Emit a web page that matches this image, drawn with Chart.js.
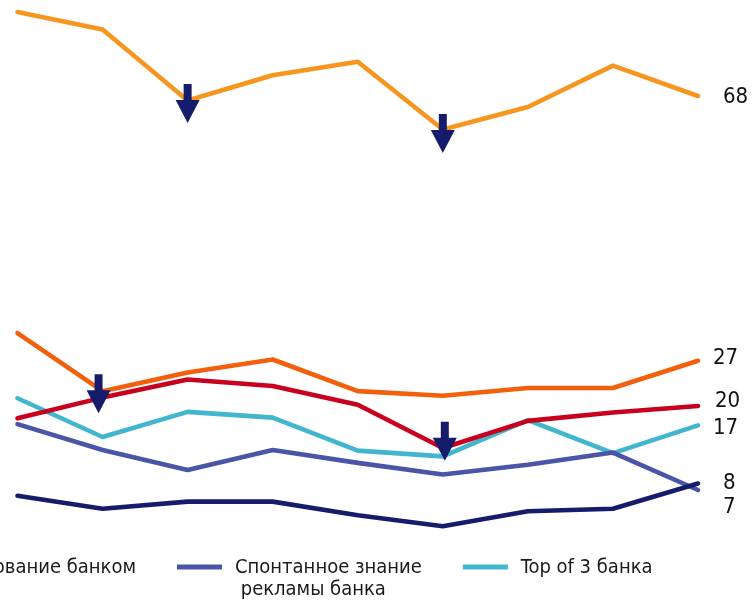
<!DOCTYPE html>
<html>
<head>
<meta charset="utf-8">
<script src="https://cdn.jsdelivr.net/npm/chart.js@4.4.1/dist/chart.umd.min.js"></script>
<style>
  html, body { margin: 0; padding: 0; background: #ffffff; }
  #wrap { position: relative; width: 753px; height: 601px; overflow: hidden; }
  canvas { display: block; }
</style>
</head>
<body>
<div id="wrap"><canvas id="chart" width="753" height="601"></canvas></div>
<script>
// Survey waves (axis labels are not shown)
const waves = ['1', '2', '3', '4', '5', '6', '7', '8', '9'];

// Series values, %
const orangeSeries    = [81, 78.3, 67.3, 71.2, 73.3, 62.8, 66.3, 72.7, 68];
const orangeRedSeries = [31.3, 22.3, 25.2, 27.2, 22.3, 21.6, 22.8, 22.8, 27];
const redSeries       = [18.1, 21.3, 24.1, 23.1, 20.2, 13.5, 17.7, 19.0, 20];
const usageSeries     = [6.1, 4.1, 5.2, 5.2, 3.1, 1.4, 3.7, 4.1, 8];
const adAwareSeries   = [17.2, 13.2, 10.1, 13.2, 11.2, 9.4, 10.9, 12.8, 7];
const top3Series      = [21.2, 15.2, 19.1, 18.2, 13.1, 12.2, 17.8, 12.7, 17];

// Legend captions (only these series carry a caption)
const usageLabel   = 'Пользование банком';
const adAwareLabel = ['Спонтанное знание', ' рекламы банка'];
const top3Label    = 'Top of 3 банка';

// Significant drops: [dataset index, wave index]
const dropMarks = [[0, 2], [0, 5], [1, 1], [2, 5]];

const FONT = "'DejaVu Sans Condensed', 'DejaVu Sans', sans-serif";
const NAVY = '#151c6b';

function lineSet(data, color, legendText) {
  return {
    data: data,
    borderColor: color,
    backgroundColor: color,
    borderWidth: 4.6,
    pointRadius: 0,
    pointHoverRadius: 0,
    tension: 0,
    fill: false,
    clip: false,
    borderCapStyle: 'round',
    borderJoinStyle: 'round',
    legendText: legendText
  };
}

const datasets = [
  lineSet(orangeSeries, '#f7961e', null),
  lineSet(orangeRedSeries, '#f2600c', null),
  lineSet(redSeries, '#c8001e', null),
  lineSet(usageSeries, NAVY, usageLabel),
  lineSet(adAwareSeries, '#4a55a8', adAwareLabel),
  lineSet(top3Series, '#42b5cf', top3Label)
];

// Placement of the end-value labels relative to the last point
const endLabelShift = [
  { dx: 25, dy: 1 },
  { dx: 15, dy: -3 },
  { dx: 17, dy: -5 },
  { dx: 25, dy: 0 },
  { dx: 25, dy: 17 },
  { dx: 15, dy: 2.5 }
];
// Placement of each drop arrow relative to its point (top of the shaft)
const dropShift = [
  { dx: 0, dy: -16.5 },
  { dx: 0, dy: -15.6 },
  { dx: -4, dy: -17 },
  { dx: 2, dy: -26.3 }
];

const endLabels = {
  id: 'endLabels',
  afterDatasetsDraw(chart) {
    const ctx = chart.ctx;
    ctx.save();
    ctx.font = '22px ' + FONT;
    ctx.fillStyle = '#111111';
    ctx.textAlign = 'left';
    ctx.textBaseline = 'middle';
    chart.data.datasets.forEach((ds, i) => {
      const meta = chart.getDatasetMeta(i);
      const last = meta.data[meta.data.length - 1];
      const v = ds.data[ds.data.length - 1];
      const s = endLabelShift[i];
      ctx.fillText(String(Math.round(v)), last.x + s.dx, last.y + s.dy);
    });
    ctx.restore();
  }
};

const dropArrows = {
  id: 'dropArrows',
  afterDatasetsDraw(chart) {
    const ctx = chart.ctx;
    ctx.save();
    ctx.fillStyle = NAVY;
    dropMarks.forEach(([d, k], n) => {
      const p = chart.getDatasetMeta(d).data[k];
      const s = dropShift[n];
      const cx = p.x + s.dx, top = p.y + s.dy;
      const shaftW = 8, shaftH = 16, headW = 24, headH = 23;
      ctx.beginPath();
      ctx.moveTo(cx - shaftW / 2, top);
      ctx.lineTo(cx + shaftW / 2, top);
      ctx.lineTo(cx + shaftW / 2, top + shaftH);
      ctx.lineTo(cx + headW / 2, top + shaftH);
      ctx.lineTo(cx, top + shaftH + headH);
      ctx.lineTo(cx - headW / 2, top + shaftH);
      ctx.lineTo(cx - shaftW / 2, top + shaftH);
      ctx.closePath();
      ctx.fill();
    });
    ctx.restore();
  }
};

// Bottom legend: a row of line swatches with captions
const bottomLegend = {
  id: 'bottomLegend',
  afterDraw(chart) {
    const ctx = chart.ctx;
    const swatch = 45, gapText = 13, gapItem = 41, rowY = 567, lineH = 22;
    ctx.save();
    ctx.font = '20px ' + FONT;
    ctx.textBaseline = 'middle';
    ctx.textAlign = 'left';
    const items = chart.data.datasets.filter(ds => ds.legendText).map(ds => {
      const lines = Array.isArray(ds.legendText) ? ds.legendText : [ds.legendText];
      const w = Math.max(...lines.map(t => ctx.measureText(t).width));
      return { color: ds.borderColor, lines, w };
    });
    // the second caption's swatch starts at x = 177
    let x = 177 - gapItem - (swatch + gapText + items[0].w);
    items.forEach(it => {
      ctx.strokeStyle = it.color;
      ctx.lineWidth = 5;
      ctx.lineCap = 'butt';
      ctx.beginPath();
      ctx.moveTo(x, rowY);
      ctx.lineTo(x + swatch, rowY);
      ctx.stroke();
      ctx.fillStyle = '#1a1a1a';
      it.lines.forEach((t, j) => ctx.fillText(t, x + swatch + gapText, rowY + 1 + j * lineH));
      x += swatch + gapText + it.w + gapItem;
    });
    ctx.restore();
  }
};

new Chart(document.getElementById('chart'), {
  type: 'line',
  data: { labels: waves, datasets: datasets },
  options: {
    responsive: false,
    animation: false,
    devicePixelRatio: 1,
    layout: { padding: { left: 17.5, right: 55, top: 5.56, bottom: 65.8 } },
    scales: {
      x: { display: false, offset: false },
      y: { display: false, min: 0, max: 82 }
    },
    plugins: {
      legend: { display: false },
      tooltip: { enabled: false }
    }
  },
  plugins: [endLabels, dropArrows, bottomLegend]
});
</script>
</body>
</html>
